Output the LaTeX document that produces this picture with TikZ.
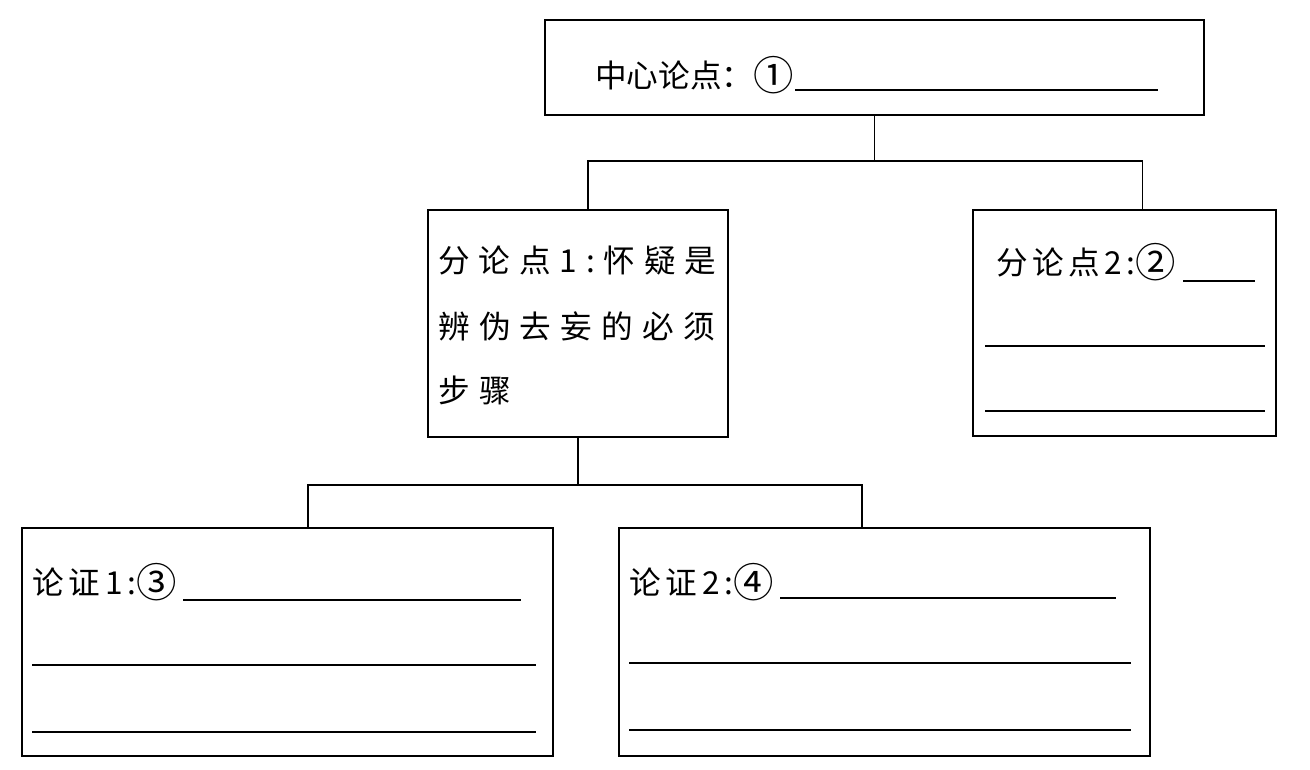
\documentclass[tikz,border=0pt]{standalone}
\usepackage{fontspec}
\newfontfamily\cjk{Noto Sans CJK SC}
\newcommand\circnum[1]{{\fontsize{23}{20}\selectfont\raisebox{-0.09em}{#1}}}
\begin{document}
\begin{tikzpicture}[x=0.02cm, y=-0.02cm,
  box/.style={draw, line width=1.1pt, inner sep=0pt},
  link/.style={line width=0.8pt},
  blank/.style={line width=0.8pt},
  txt/.style={anchor=base west, inner sep=0pt, font=\cjk\fontsize{18}{20}\selectfont}]
  \useasboundingbox (0,0) rectangle (1310,769);
  \node[box, minimum width=13.18cm, minimum height=1.9cm] (top) at (874.5,67.5) {};
  \node[box, minimum width=6cm, minimum height=4.54cm] (p1) at (578,323.5) {};
  \node[box, minimum width=6.06cm, minimum height=4.52cm] (p2) at (1124.5,323) {};
  \node[box, minimum width=10.62cm, minimum height=4.56cm] (a1) at (287.5,642) {};
  \node[box, minimum width=10.62cm, minimum height=4.56cm] (a2) at (884.5,642) {};
  \draw[link] (top.south) -- ++(0,45) coordinate (j1);
  \draw[link] ([xshift=0.2cm]p1.north) |- (j1) -| ([xshift=0.36cm]p2.north);
  \draw[link] (p1.south) -- ++(0,47) coordinate (j2);
  \draw[link] ([xshift=0.41cm]a1.north) |- (j2) -| ([xshift=-0.45cm]a2.north);
  \node[txt] (t0) at (595,87) {中心论点：\circnum{①}};
  \node[txt] (t1) at (438,272) {\addfontfeature{LetterSpace=28}分论点1:怀疑是};
  \node[txt] (t2) at (438,338) {\addfontfeature{LetterSpace=29}辨伪去妄的必须};
  \node[txt] (t3) at (438,402) {\addfontfeature{LetterSpace=29}步骤};
  \node[txt] (t4) at (996,274) {\addfontfeature{LetterSpace=14}分论点2:\circnum{②}};
  \node[txt] (t5) at (32,594) {\addfontfeature{LetterSpace=14}论证\,1:\circnum{③}};
  \node[txt] (t6) at (629,594) {\addfontfeature{LetterSpace=14}论证\,2:\circnum{④}};
  \draw[blank] (795,90) -- (1158,90);
  \draw[blank] (1183,281) -- (1255,281);
  \draw[blank] (985,346) -- (1265,346);
  \draw[blank] (985,411) -- (1265,411);
  \draw[blank] (183,600) -- (521,600);
  \draw[blank] (32,665) -- (536,665);
  \draw[blank] (32,732) -- (536,732);
  \draw[blank] (780,598) -- (1116,598);
  \draw[blank] (629,663) -- (1131,663);
  \draw[blank] (629,730) -- (1131,730);
\end{tikzpicture}
\end{document}
